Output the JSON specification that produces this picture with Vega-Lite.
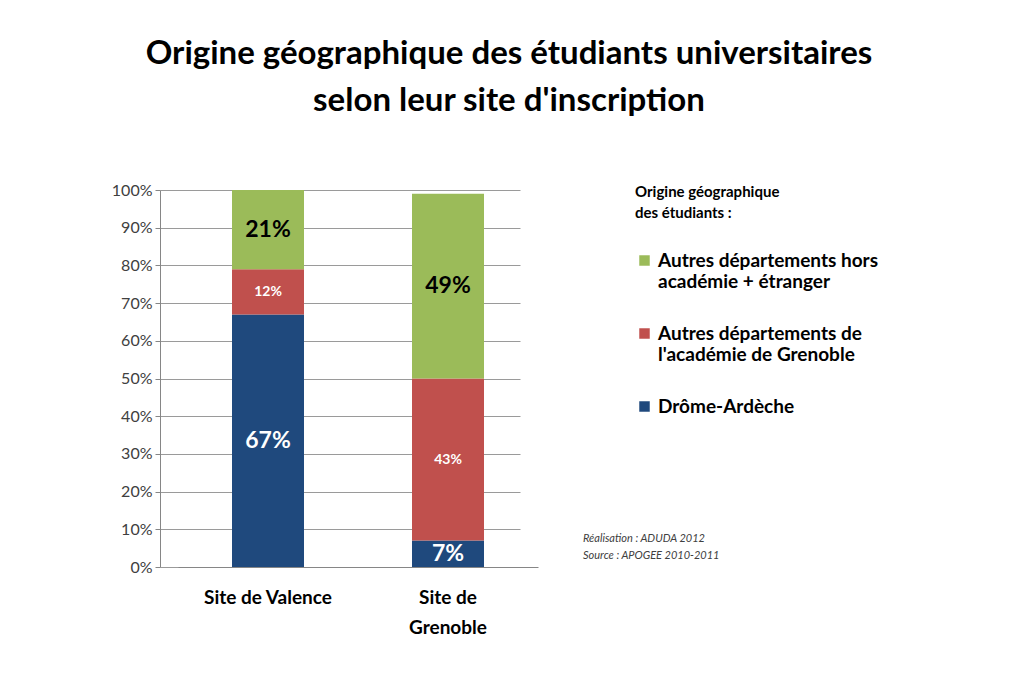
{
  "$schema": "https://vega.github.io/schema/vega-lite/v6.json",
  "width": 360,
  "height": 377,
  "autosize": {"type": "none"},
  "padding": {"left": 178, "top": 190, "right": 487, "bottom": 117},
  "background": "white",
  "config": {
    "view": {"stroke": null},
    "font": "Lato",
    "axisY": {
      "labelOverlap": false,
      "labelFontSize": 16,
      "labelColor": "#404040",
      "offset": 18,
      "tickSize": 5,
      "tickColor": "#868686",
      "domainColor": "#868686",
      "gridColor": "#9a9a9a",
      "labelPadding": 3,
      "tickCount": 12,
      "values": [0, 0.1, 0.2, 0.3, 0.4, 0.5, 0.6, 0.7, 0.8, 0.9, 1],
      "format": ".0%"
    }
  },
  "title": {
    "text": ["Origine géographique des étudiants universitaires", "selon leur site d'inscription"],
    "fontSize": 33,
    "fontWeight": "bold",
    "font": "Lato",
    "color": "black",
    "anchor": "middle",
    "dx": 151,
    "offset": 64,
    "lineHeight": 47
  },
  "data": {
    "values": [
      {"site": "Site de Valence", "origine": "Drôme-Ardèche", "rang": 1, "pct": 0.67},
      {"site": "Site de Valence", "origine": "Autres départements de l'académie de Grenoble", "rang": 2, "pct": 0.12},
      {"site": "Site de Valence", "origine": "Autres départements hors académie + étranger", "rang": 3, "pct": 0.21},
      {"site": "Site de Grenoble", "origine": "Drôme-Ardèche", "rang": 1, "pct": 0.07},
      {"site": "Site de Grenoble", "origine": "Autres départements de l'académie de Grenoble", "rang": 2, "pct": 0.43},
      {"site": "Site de Grenoble", "origine": "Autres départements hors académie + étranger", "rang": 3, "pct": 0.49}
    ]
  },
  "transform": [
    {"stack": "pct", "groupby": ["site"], "sort": [{"field": "rang", "order": "ascending"}], "as": ["y0", "y1"]},
    {"calculate": "(datum.y0 + datum.y1) / 2", "as": "ymid"}
  ],
  "encoding": {
    "x": {
      "field": "site",
      "type": "nominal",
      "sort": ["Site de Valence", "Site de Grenoble"],
      "scale": {"paddingInner": 0.6, "paddingOuter": 0.3},
      "axis": {
        "title": null,
        "labelAngle": 0,
        "labelFontSize": 19,
        "labelFontWeight": "bold",
        "labelColor": "black",
        "labelPadding": 21,
        "labelLineHeight": 30,
        "labelBaseline": "top",
        "ticks": false,
        "domainColor": "#868686",
        "labelExpr": "datum.value == 'Site de Grenoble' ? ['Site de', 'Grenoble'] : datum.value"
      }
    }
  },
  "layer": [
    {
      "mark": {"type": "bar"},
      "encoding": {
        "y": {
          "field": "y0",
          "type": "quantitative",
          "scale": {"domain": [0, 1], "nice": false},
          "axis": {"title": null, "tickCount": 12, "values": [0, 0.1, 0.2, 0.3, 0.4, 0.5, 0.6, 0.7, 0.8, 0.9, 1], "format": ".0%"}
        },
        "y2": {"field": "y1"},
        "color": {
          "field": "origine",
          "type": "nominal",
          "scale": {
            "domain": ["Autres départements hors académie + étranger", "Autres départements de l'académie de Grenoble", "Drôme-Ardèche"],
            "range": ["#9BBB59", "#C0504D", "#1F497D"]
          },
          "legend": {
            "orient": "none",
            "legendX": 457,
            "legendY": -5,
            "title": ["Origine géographique", "des étudiants :"],
            "titleFontSize": 15,
            "titleFontWeight": "bold",
            "titleColor": "black",
            "titlePadding": 30,
            "titleLimit": 400,
            "titleLineHeight": 21,
            "labelFontSize": 19,
            "labelFontWeight": "bold",
            "labelColor": "black",
            "labelLimit": 400,
            "symbolType": "square",
            "symbolSize": 110,
            "symbolStrokeWidth": 0,
            "symbolOpacity": 1,
            "rowPadding": 32,
            "labelExpr": "datum.label == 'Autres départements hors académie + étranger' ? ['Autres départements hors', 'académie + étranger'] : (datum.label == 'Drôme-Ardèche' ? datum.label : ['Autres départements de', \"l'académie de Grenoble\"])"
          }
        }
      }
    },
    {
      "mark": {"type": "text", "fontWeight": "bold", "font": "Lato"},
      "encoding": {
        "y": {"field": "ymid", "type": "quantitative"},
        "text": {"field": "pct", "type": "quantitative", "format": ".0%"},
        "size": {"condition": {"test": "datum.rang == 2", "value": 14}, "value": 23},
        "color": {"condition": {"test": "datum.rang == 3", "value": "black"}, "value": "white"}
      }
    },
    {
      "data": {"values": [{}]},
      "mark": {"type": "text", "align": "left", "dx": 135, "fontStyle": "italic", "fontSize": 11, "color": "#404040", "lineHeight": 17, "font": "Lato"},
      "encoding": {
        "x": {"datum": "Site de Grenoble"},
        "y": {"datum": 0.075},
        "text": {"value": ["Réalisation : ADUDA 2012", "Source : APOGEE 2010-2011"]}
      }
    }
  ]
}
